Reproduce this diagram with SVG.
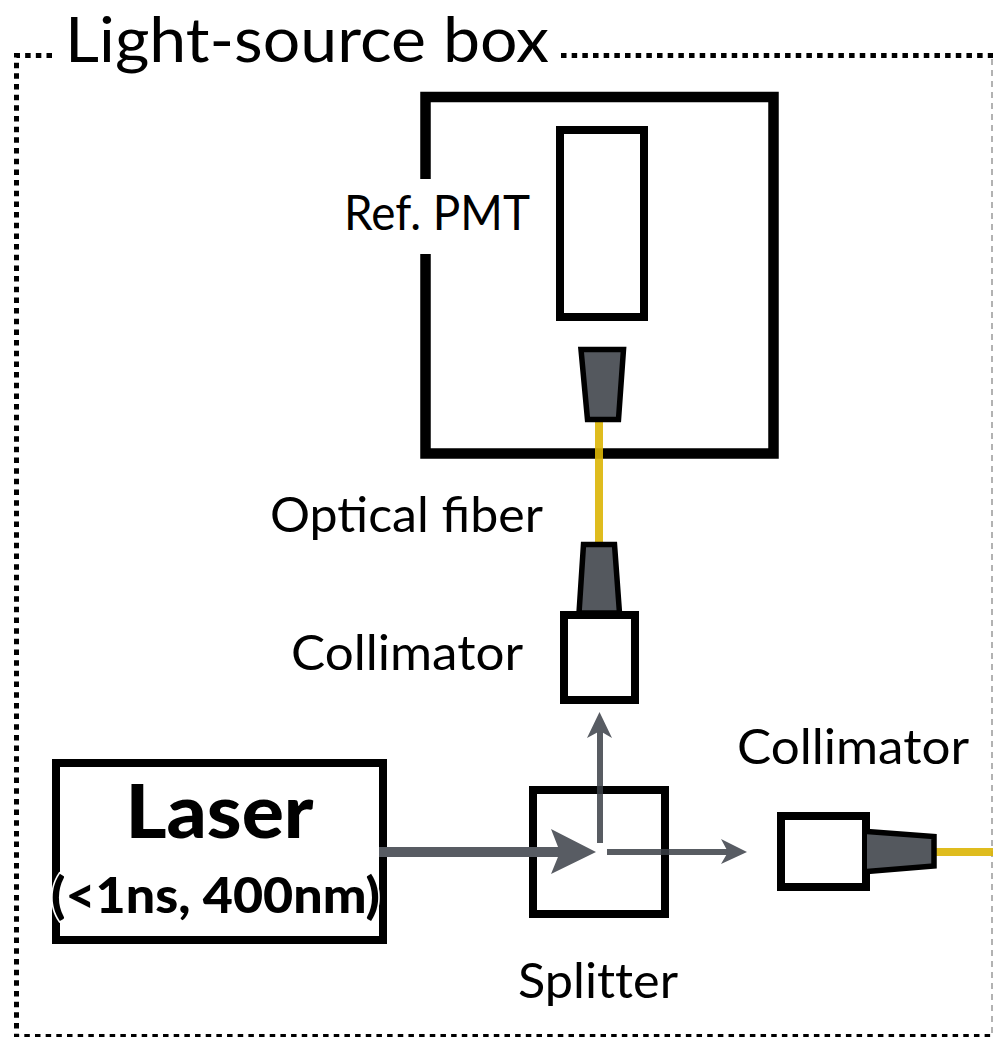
<svg xmlns="http://www.w3.org/2000/svg" width="993" height="1037" viewBox="0 0 993 1037">
<style>
text{font-family:Lato,"Open Sans","Liberation Sans",sans-serif;fill:#000}
.b{fill:#fff;stroke:#000;stroke-width:8}
.t{fill:#54585e;stroke:#000;stroke-width:5.500}
.f{fill:none;stroke:#dbb506;stroke-width:8;opacity:.9}
.a{fill:none;stroke:#3b3f46;stroke-width:6;opacity:.85}
.h{fill:#585c63}
.d{fill:none;stroke:#000;stroke-width:5;stroke-dasharray:5.500 5.170}
.l{font-size:48px}
.k{font-weight:900;text-anchor:middle;paint-order:stroke;stroke:#fff;stroke-width:3px}
</style>
<rect width="993" height="1037" fill="#fff"/>
<g id="light-source-box">
<path class="d" d="M52 55.500H16.500V1036.500H993"/>
<path class="d" d="M561 55.500H993"/>
<path d="M992 59V1034" fill="none" stroke="#999" stroke-width="1.500" stroke-dasharray="6 5"/>
<text x="65" y="62" font-size="62" textLength="484" lengthAdjust="spacingAndGlyphs">Light-source box</text>
</g>
<g id="ref-pmt">
<path d="M425.500 179V97H773.500V453.500H425.500V254" fill="none" stroke="#000" stroke-width="10.500"/>
<rect class="b" x="560" y="130" width="84" height="187"/>
<text class="l" x="344" y="230" textLength="186" lengthAdjust="spacingAndGlyphs">Ref. PMT</text>
</g>
<g id="laser">
<rect class="b" x="56" y="763" width="327" height="177"/>
<text class="k" x="219.500" y="838" font-size="74" textLength="188" lengthAdjust="spacingAndGlyphs">Laser</text>
<text class="k" x="215.500" y="913" font-size="49" textLength="329" lengthAdjust="spacingAndGlyphs">(&lt;1ns, 400nm)</text>
</g>
<g id="splitter">
<rect x="533" y="790" width="132" height="124" fill="none" stroke="#000" stroke-width="8"/>
<text class="l" x="518" y="998" textLength="160" lengthAdjust="spacingAndGlyphs" style="font-variant-ligatures:none">Splitter</text>
</g>
<g id="connectors">
<path class="f" d="M599 422V542"/>
<path class="f" d="M936 852H993"/>
<path d="M379 852H560" fill="none" stroke="#585c63" stroke-width="10"/>
<path class="h" d="M596 852L551 829L560 852L551 874Z"/>
<path class="a" d="M607 852H730"/>
<path class="h" d="M747 852L721 839L728 852L721 864Z"/>
<path class="a" d="M600 843V730"/>
<path class="h" d="M599.500 712L587 738L600 731L612 738Z"/>
</g>
<g id="ref-pmt-input">
<path class="t" d="M581 349.500H623.500L618.500 419.500H587.500Z"/>
</g>
<g id="collimator-up">
<path class="t" d="M583.500 544.500H614.500L619.500 613H579Z"/>
<rect class="b" x="564" y="615" width="71" height="85"/>
<text class="l" x="291" y="670" textLength="232" lengthAdjust="spacingAndGlyphs">Collimator</text>
</g>
<g id="optical-fiber-label">
<text class="l" x="270" y="532" textLength="273" lengthAdjust="spacingAndGlyphs">Optical fiber</text>
</g>
<g id="collimator-right">
<rect class="b" x="781" y="816" width="85" height="71"/>
<path class="t" d="M867 831.500L934 836.500V866L867 871.500"/>
<text class="l" x="737" y="764" textLength="232" lengthAdjust="spacingAndGlyphs">Collimator</text>
</g>
</svg>
